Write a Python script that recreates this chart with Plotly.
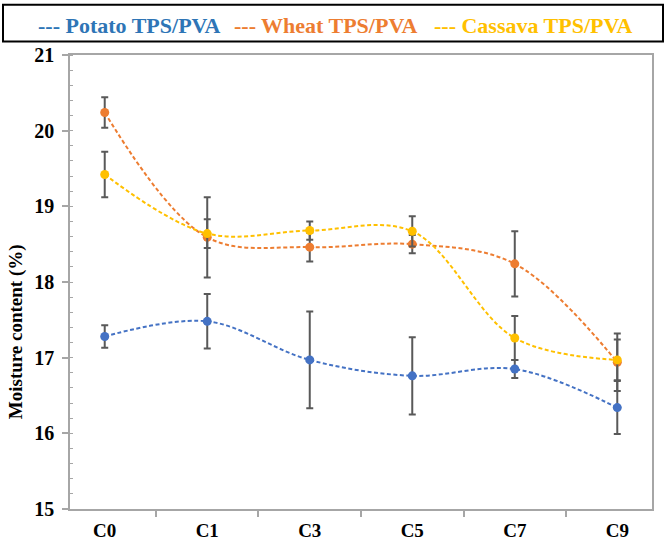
import plotly.graph_objects as go

categories = ["C0", "C1", "C3", "C5", "C7", "C9"]
potato = [17.28, 17.48, 16.97, 16.76, 16.85, 16.34]
potato_err = [0.15, 0.36, 0.64, 0.51, 0.12, 0.35]
wheat = [20.24, 18.59, 18.46, 18.50, 18.24, 16.94]
wheat_err = [0.20, 0.53, 0.19, 0.12, 0.43, 0.38]
cassava = [19.42, 18.64, 18.68, 18.67, 17.26, 16.97]
cassava_err = [0.30, 0.19, 0.12, 0.20, 0.29, 0.27]

series = [
    ("Potato TPS/PVA", potato, potato_err, "#4472C4", "#2E75B6"),
    ("Wheat TPS/PVA", wheat, wheat_err, "#ED7D31", "#ED7D31"),
    ("Cassava TPS/PVA", cassava, cassava_err, "#FFC000", "#FFC000"),
]

fig = go.Figure()
for name, vals, errs, col, _ in series:
    fig.add_trace(go.Scatter(
        x=categories, y=vals, name=name, mode="lines+markers",
        line=dict(color=col, width=2, dash="4px,2.5px", shape="spline", smoothing=1.0),
        marker=dict(color=col, size=9),
        error_y=dict(type="data", array=errs, visible=True, color="#595959",
                     thickness=2, width=3.5),
        showlegend=False,
    ))

W, H = 666, 553
L, R, T, B = 70, 14, 55, 28
pw, ph = W - L - R, H - T - B

def px(x):
    return (x - L) / pw

def py(y):
    return (H - B - y) / ph

fig.add_shape(type="rect", xref="paper", yref="paper",
              x0=px(3), x1=px(663), y0=py(41), y1=py(3),
              line=dict(color="#000000", width=2), fillcolor="rgba(0,0,0,0)")

leg_x = [36, 232, 432]
for (name, _, _, _, tcol), lx in zip(series, leg_x):
    fig.add_annotation(xref="paper", yref="paper", x=px(lx), y=py(24),
                       xanchor="left", yanchor="middle", showarrow=False,
                       text="<b>--- " + name + "</b>",
                       font=dict(family="Liberation Serif", size=22, color=tcol))

fig.add_annotation(xref="paper", yref="paper", x=px(16), y=py(342),
                   xanchor="center", yanchor="middle", showarrow=False, textangle=-90,
                   text="<b>Moisture content (%)</b>",
                   font=dict(family="Liberation Serif", size=19, color="#000000"))

fig.update_layout(
    width=W, height=H,
    margin=dict(l=L, r=R, t=T, b=B),
    paper_bgcolor="white", plot_bgcolor="white",
    xaxis=dict(type="category", showline=True, linecolor="#A6A6A6", linewidth=1.7,
               mirror=True, ticks="outside", tickson="boundaries", ticklen=6,
               tickcolor="#A6A6A6", tickwidth=1.5, showgrid=False,
               tickfont=dict(family="Liberation Serif", size=19, color="#000000"),
               ticklabelstandoff=3,
               tickprefix="<b>", ticksuffix="</b>"),
    yaxis=dict(range=[15, 21], dtick=1, showline=True, linecolor="#A6A6A6", linewidth=1.7,
               mirror=True, ticks="outside", ticklen=6, tickcolor="#A6A6A6", tickwidth=1.5,
               showgrid=False, zeroline=False,
               tickfont=dict(family="Liberation Serif", size=20, color="#000000"),
               ticklabelstandoff=4,
               tickprefix="<b>", ticksuffix="</b>",
               minor=dict(ticks="inside", dtick=0.2, ticklen=3, tickcolor="#A6A6A6",
                          tickwidth=1, showgrid=False)),
)

fig.write_html("out.html")
